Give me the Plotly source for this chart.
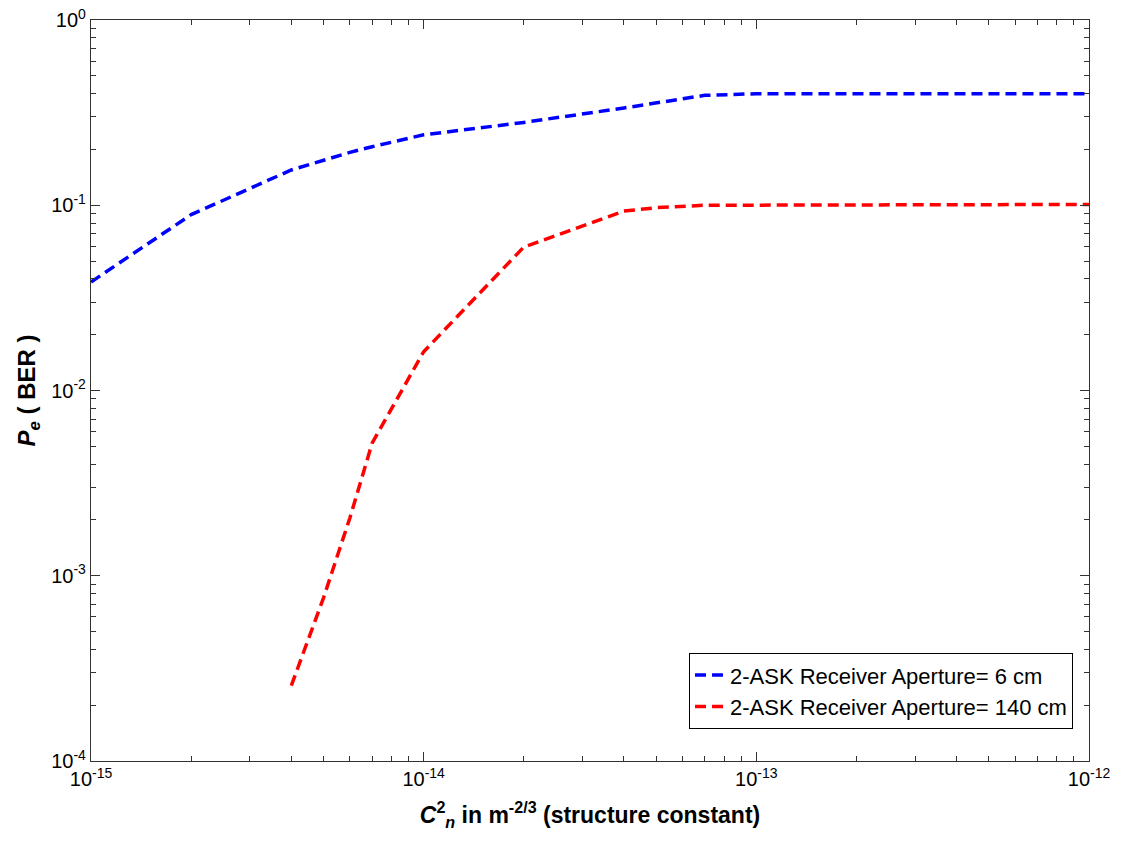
import plotly.graph_objects as go

# Data
cn2_blue = [1e-15, 2e-15, 4e-15, 5e-15, 6e-15, 7e-15, 1e-14, 2e-14, 4e-14, 7e-14, 1e-13, 1e-12]
ber_blue = [0.0385, 0.089, 0.155, 0.175, 0.193, 0.207, 0.240, 0.280, 0.335, 0.392, 0.40, 0.40]

cn2_red = [4e-15, 5e-15, 6e-15, 7e-15, 1e-14, 2e-14, 4e-14, 5e-14, 7e-14, 1e-13, 1e-12]
ber_red = [2.55e-4, 7.6e-4, 2.05e-3, 5.2e-3, 0.0162, 0.0595, 0.093, 0.097, 0.100, 0.100, 0.101]

name_blue = "2-ASK Receiver Aperture= 6 cm"
name_red = "2-ASK Receiver Aperture= 140 cm"

x_major = [1e-15, 1e-14, 1e-13, 1e-12]
x_major_text = ["10<sup>-15</sup>", "10<sup>-14</sup>", "10<sup>-13</sup>", "10<sup>-12</sup>"]
y_major = [1e-4, 1e-3, 1e-2, 1e-1, 1e0]
y_major_text = ["10<sup>-4</sup>", "10<sup>-3</sup>", "10<sup>-2</sup>", "10<sup>-1</sup>", "10<sup>0</sup>"]

x_minor = [m * d for d in [1e-15, 1e-14, 1e-13] for m in range(2, 10)]
y_minor = [m * d for d in [1e-4, 1e-3, 1e-2, 1e-1] for m in range(2, 10)]

font_family = "Arial, Liberation Sans, sans-serif"

fig = go.Figure()
fig.add_trace(go.Scatter(x=cn2_blue, y=ber_blue, mode="lines", name=name_blue,
                         line=dict(color="#0000ff", width=3.5, dash="11px,6px")))
fig.add_trace(go.Scatter(x=cn2_red, y=ber_red, mode="lines", name=name_red,
                         line=dict(color="#ff0000", width=3.5, dash="11px,6px")))

axis_common = dict(
    type="log", showgrid=False, zeroline=False, automargin=False,
    showline=True, linecolor="#333333", linewidth=1.2, mirror="ticks",
    ticks="inside", ticklen=9, tickcolor="#333333", tickwidth=1,
    tickfont=dict(family=font_family, size=20, color="black"),
    ticklabeloverflow="allow",
)

fig.update_xaxes(
    **axis_common,
    range=[-15, -12],
    tickmode="array", tickvals=x_major, ticktext=x_major_text,
    minor=dict(tickmode="array", tickvals=x_minor, ticks="inside", ticklen=5,
               tickcolor="#333333", showgrid=False),
    title=dict(text="<b><i>C</i><sup>2</sup><sub><i>n</i></sub> in m<sup>-2/3</sup> (structure constant)</b>",
               font=dict(family=font_family, size=23, color="black"), standoff=17),
)
fig.update_yaxes(
    **axis_common,
    range=[-4, 0],
    tickmode="array", tickvals=y_major, ticktext=y_major_text,
    minor=dict(tickmode="array", tickvals=y_minor, ticks="inside", ticklen=5,
               tickcolor="#333333", showgrid=False),
    title=dict(text="<b><i>P</i><sub><i>e</i></sub> ( BER )</b>",
               font=dict(family=font_family, size=24, color="black"), standoff=8),
)

fig.update_layout(
    width=1121, height=841,
    margin=dict(l=83, r=40, t=12, b=88),
    paper_bgcolor="white", plot_bgcolor="white",
    font=dict(family=font_family, size=20, color="black"),
    showlegend=True,
    legend=dict(x=0.984, y=0.043, xanchor="right", yanchor="bottom",
                bgcolor="white", bordercolor="black", borderwidth=1,
                font=dict(family=font_family, size=22, color="black"),
                tracegroupgap=0, itemwidth=30),
)

fig.write_html("out.html")
